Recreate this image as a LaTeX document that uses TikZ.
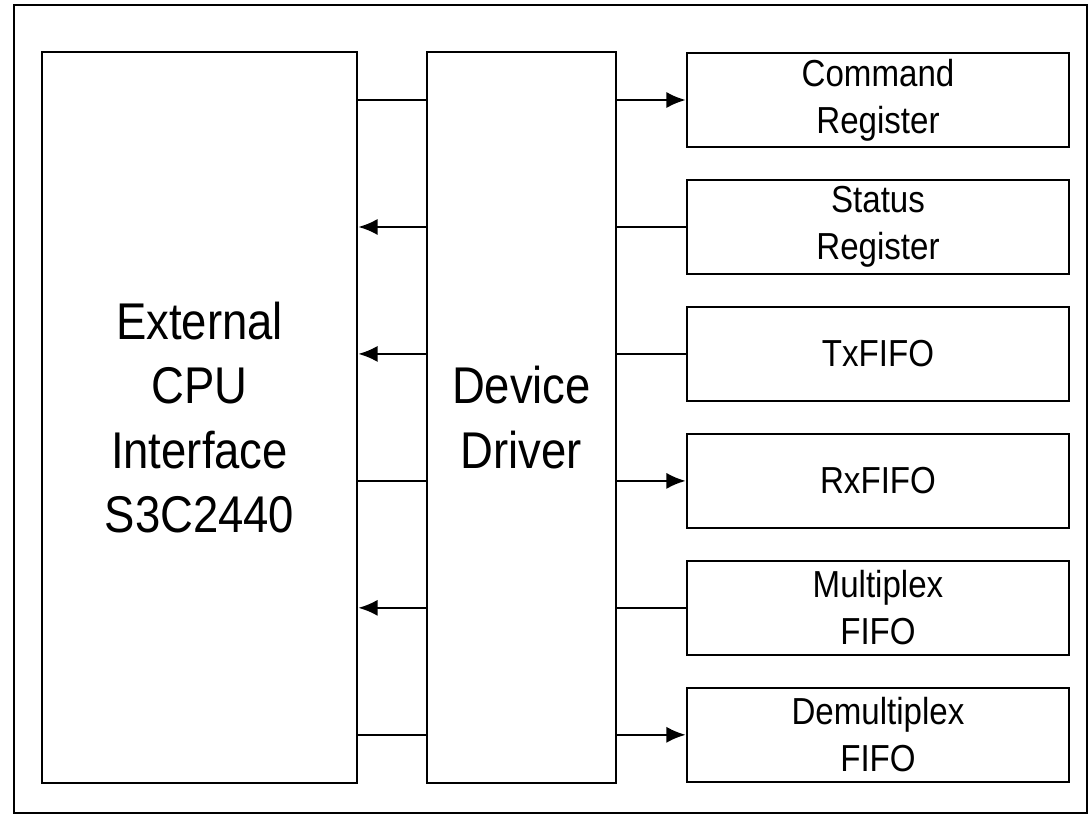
\documentclass[tikz,border=0pt]{standalone}
\usepackage{fontspec}
\setmainfont[FakeStretch=0.88]{Liberation Sans}
\usetikzlibrary{positioning,arrows.meta}

\tikzset{
    blockbox/.style={draw, line width=0.7pt, align=center, inner sep=0pt},
    bigbox/.style={blockbox, minimum height=7.31cm, font=\fontsize{14.7}{18.3}\selectfont},
    regbox/.style={blockbox, minimum width=3.82cm, minimum height=0.94cm, font=\fontsize{10.7}{13.4}\selectfont},
}

\begin{document}
\begin{tikzpicture}[>={Latex[length=5.5pt,width=4.6pt]}, line width=0.7pt, node distance=0.305cm]
    \useasboundingbox (0,0) rectangle (10.88,-8.16);
    \draw (0.14,-0.05) rectangle (10.87,-8.13);
    \node[bigbox, minimum width=3.15cm] (ext) at (1.995,-4.175) {External\\CPU\\Interface\\S3C2440};
    \node[bigbox, minimum width=1.89cm] (drv) at (5.215,-4.175) {Device\\Driver};
    \node[regbox] (cmd) at (8.78,-1.0) {Command\\Register};
    \node[regbox, below=of cmd] (stat) {Status\\Register};
    \node[regbox, below=of stat] (tx) {TxFIFO};
    \node[regbox, below=of tx] (rx) {RxFIFO};
    \node[regbox, below=of rx] (mux) {Multiplex\\FIFO};
    \node[regbox, below=of mux] (demux) {Demultiplex\\FIFO};
    \foreach \n/\l/\r in {cmd/-/->, stat/->/-, tx/->/-, rx/-/->, mux/->/-, demux/-/->} {
        \draw[\l] (drv.west |- \n) -- (ext.east |- \n);
        \draw[\r] (drv.east |- \n) -- (\n.west);
    }
\end{tikzpicture}
\end{document}
